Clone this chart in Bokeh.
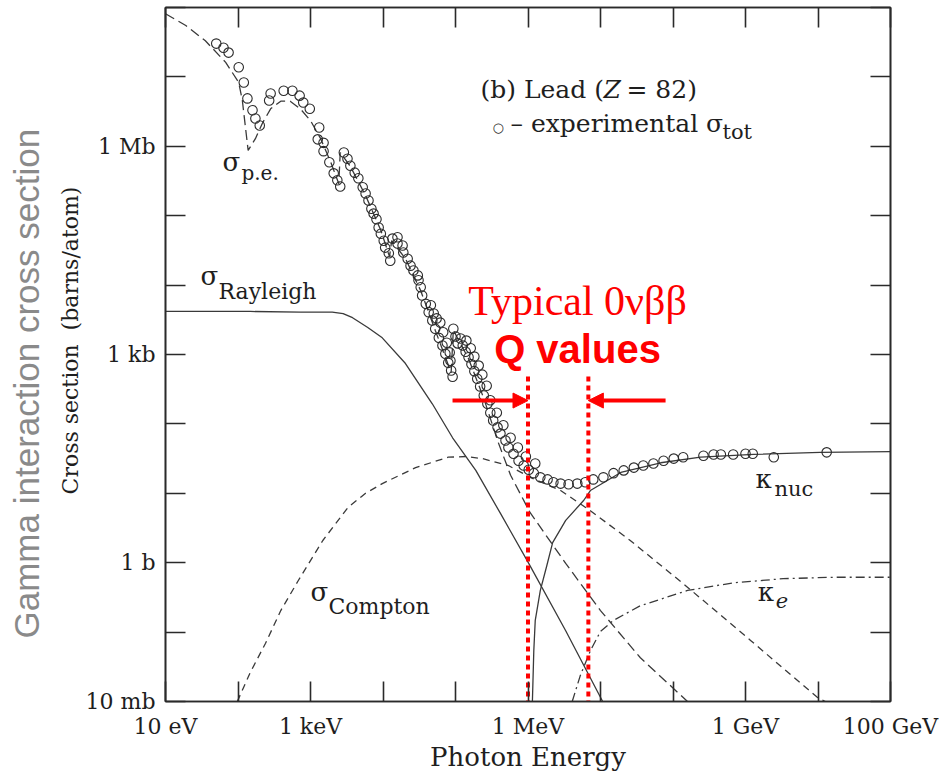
import numpy as np
from bokeh.plotting import figure
from bokeh.models import Range1d, FixedTicker, LogAxis, Label, Arrow, NormalHead
from bokeh.embed import file_html
from bokeh.resources import INLINE

# Photon interaction cross sections of lead (Z = 82).
# All series are stored as log10(E / eV) and log10(sigma / barn).

# experimental total cross section (open circles)
tot_log_e = [1.70, 1.80, 1.87, 2.01, 2.08, 2.13, 2.20, 2.24, 2.30,
             2.43, 2.45, 2.63, 2.75, 2.85, 2.90, 2.99,
             3.12, 3.10, 3.18, 3.18, 3.26, 3.32, 3.37, 3.41,
             3.46, 3.51, 3.55, 3.61, 3.66, 3.72, 3.76, 3.80, 3.84, 3.87, 3.91, 3.94, 3.97, 4.01, 4.03, 4.08, 4.10,
             4.13, 4.20, 4.20, 4.27, 4.28, 4.34, 4.38, 4.42, 4.48, 4.49,
             4.52, 4.54, 4.59, 4.63, 4.68, 4.72, 4.77, 4.82, 4.86, 4.90, 4.94, 4.96,
             4.66, 4.70, 4.74, 4.79, 4.83, 4.88, 4.92, 4.93,
             4.97, 5.00, 5.03, 5.07, 5.10, 5.14, 5.18, 5.22, 5.26, 5.30, 5.34, 5.39, 5.44, 5.48,
             5.52, 5.58, 5.62, 5.69, 5.73, 5.80, 5.87, 5.94,
             6.01, 6.08, 6.17, 6.27, 6.35, 6.45, 6.56, 6.68, 6.79, 6.90,
             7.04, 7.18, 7.32, 7.46, 7.59, 7.73, 7.87,
             8.01, 8.14, 8.42, 8.56, 8.66, 8.83,
             9.00, 9.10, 9.39, 10.12,
             5.15, 5.21, 5.26, 5.32, 5.37, 5.43,
             5.48, 5.57, 5.66, 5.76, 5.86, 5.97, 6.10]
tot_log_sigma = [7.48, 7.42, 7.35, 7.14, 6.92, 6.69, 6.52, 6.40, 6.30,
                 6.66, 6.76, 6.80, 6.80, 6.73, 6.63, 6.54,
                 6.27, 6.10, 6.05, 5.93, 5.77, 5.61, 5.51, 5.42,
                 5.91, 5.82, 5.72, 5.62, 5.54, 5.41, 5.32, 5.22, 5.10, 5.03, 4.95, 4.83, 4.74, 4.64, 4.54, 4.46, 4.35,
                 4.67, 4.69, 4.60, 4.57, 4.47, 4.38, 4.28, 4.21, 4.14, 4.07,
                 3.97, 3.85, 3.73, 3.61, 3.49, 3.37, 3.24, 3.13, 3.01, 2.88, 2.77, 2.68,
                 3.71, 3.59, 3.52, 3.46, 3.32, 3.17, 3.03, 2.91,
                 3.37, 3.26, 3.16, 3.23, 3.13, 3.04, 2.96, 2.86, 2.76, 2.65, 2.54, 2.41, 2.29, 2.16,
                 2.05, 1.95, 1.86, 1.76, 1.66, 1.57, 1.47, 1.40,
                 1.34, 1.29, 1.23, 1.20, 1.16, 1.14, 1.13, 1.14, 1.16, 1.20,
                 1.23, 1.29, 1.33, 1.37, 1.40, 1.43, 1.47,
                 1.50, 1.52, 1.54, 1.56, 1.56, 1.56,
                 1.57, 1.57, 1.52, 1.59,
                 3.20, 3.09, 2.97, 2.84, 2.71, 2.55,
                 2.34, 2.16, 1.98, 1.80, 1.66, 1.53, 1.43]

# photoelectric absorption
pe_log_e = [1.00, 1.28, 1.55, 1.83, 2.01, 2.06, 2.10, 2.14, 2.24, 2.34,
            2.45, 2.59, 2.72, 2.86, 3.00, 3.14, 3.28, 3.39, 3.41, 3.55,
            3.76, 3.97, 4.09, 4.12, 4.31, 4.52, 4.72, 4.94, 4.97, 5.18,
            5.39, 5.58, 5.76, 6.03, 6.52, 7.00, 7.55, 8.20]
pe_log_sigma = [7.91, 7.74, 7.52, 7.21, 6.92, 6.66, 6.30, 5.94, 6.11, 6.34,
                6.54, 6.65, 6.65, 6.54, 6.37, 6.11, 5.77, 5.46, 5.91, 5.71,
                5.29, 4.79, 4.41, 4.64, 4.38, 3.92, 3.35, 2.74, 3.35, 2.94,
                2.37, 1.76, 1.26, 0.72, -0.01, -0.69, -1.37, -2.00]

# coherent (Rayleigh) scattering
ray_log_e = [1.00, 2.17, 2.86, 3.30, 3.45, 3.58, 3.79, 3.99, 4.31, 4.68, 4.96, 5.28, 5.62, 6.01, 6.52, 7.03]
ray_log_sigma = [3.62, 3.62, 3.61, 3.61, 3.59, 3.53, 3.39, 3.24, 2.87, 2.29, 1.80, 1.33, 0.71, -0.01, -0.98, -2.00]

# incoherent (Compton) scattering
comp_log_e = [1.99, 2.17, 2.38, 2.59, 2.83, 3.17, 3.52, 3.76, 3.99, 4.45, 4.90,
              5.14, 5.37, 5.73, 6.03, 6.45, 6.86, 7.41, 8.14, 9.07, 9.99, 10.10]
comp_log_sigma = [-2.00, -1.58, -1.16, -0.69, -0.26, 0.32, 0.80, 1.00, 1.14, 1.37, 1.52,
                  1.53, 1.50, 1.40, 1.23, 1.04, 0.75, 0.32, -0.30, -1.12, -1.94, -2.00]

# pair production, nuclear field
knuc_log_e = [6.05, 6.08, 6.10, 6.17, 6.26, 6.34, 6.52, 6.77, 6.86, 7.28, 7.83, 8.38, 9.11, 10.03, 11.00]
knuc_log_sigma = [-2.40, -1.27, -0.83, -0.40, -0.04, 0.29, 0.61, 0.90, 1.04, 1.30, 1.44, 1.52, 1.56, 1.59, 1.60]

# pair production, electron field
ke_log_e = [6.61, 6.72, 6.86, 7.00, 7.18, 7.55, 8.20, 8.83, 9.52, 10.21, 11.00]
ke_log_sigma = [-2.00, -1.63, -1.27, -0.99, -0.83, -0.62, -0.40, -0.29, -0.23, -0.21, -0.21]

# double-beta decay Q-value window (eV)
q_values_ev = [1.0e6, 6.8e6]

x_ticks = [1e1, 1e2, 1e3, 1e4, 1e5, 1e6, 1e7, 1e8, 1e9, 1e10, 1e11]
x_tick_text = {1e1: "10 eV", 1e3: "1 keV", 1e6: "1 MeV", 1e9: "1 GeV", 1e11: "100 GeV"}
y_ticks = [1e-2, 1e-1, 1e0, 1e1, 1e2, 1e3, 1e4, 1e5, 1e6, 1e7, 1e8]
y_tick_text = {1e-2: "10 mb", 1e0: "1 b", 1e3: "1 kb", 1e6: "1 Mb"}


def lin(a):
    return 10.0 ** np.asarray(a, dtype=float)


INK = "#1e1e1e"
CURVE = "#3a3a3a"
RED = "#ff0000"
SERIF = "DejaVu Serif"
NBSP = "\u00a0"

p = figure(width=940, height=775, x_axis_type="log", y_axis_type="log",
           x_range=Range1d(1e1, 1e11), y_range=Range1d(1e-2, 1e8),
           output_backend="svg", toolbar_location=None,
           min_border_left=165, min_border_right=50, min_border_top=7, min_border_bottom=74)
p.grid.visible = False
p.background_fill_color = "white"
p.border_fill_color = "white"
p.outline_line_color = "#2a2a2a"
p.outline_line_width = 1.6


def style_axis(ax, ticks, text, show_labels):
    ax.ticker = FixedTicker(ticks=ticks, minor_ticks=[])
    ax.major_label_overrides = {t: text.get(t, "") for t in ticks}
    ax.major_tick_in = 20
    ax.major_tick_out = 0
    ax.major_tick_line_color = "#2a2a2a"
    ax.major_tick_line_width = 1.6
    ax.minor_tick_line_color = None
    ax.axis_line_color = "#2a2a2a"
    ax.axis_line_width = 1.6
    if show_labels:
        ax.major_label_text_font = SERIF
        ax.major_label_text_font_size = "22px"
        ax.major_label_text_color = INK
    else:
        ax.major_label_text_font_size = "0px"
        ax.major_label_standoff = 0


# bottom axis with its title
xa = p.xaxis[0]
style_axis(xa, x_ticks, x_tick_text, True)
xa.major_label_standoff = 12
xa.axis_label = "Photon Energy"
xa.axis_label_text_font = SERIF
xa.axis_label_text_font_size = "26px"
xa.axis_label_text_font_style = "normal"
xa.axis_label_text_color = INK
xa.axis_label_standoff = 0

# left axis with its title
ya = p.yaxis[0]
style_axis(ya, y_ticks, y_tick_text, True)
ya.major_label_standoff = 10
ya.axis_label = NBSP * 4 + "Cross section" + NBSP + " (barns/atom)"
ya.axis_label_text_font = SERIF
ya.axis_label_text_font_size = "22px"
ya.axis_label_text_font_style = "normal"
ya.axis_label_text_color = INK
ya.axis_label_standoff = 0

# outer title on the left
outer = LogAxis(ticker=FixedTicker(ticks=[], minor_ticks=[]))
outer.axis_line_color = None
outer.major_tick_line_color = None
outer.minor_tick_line_color = None
outer.major_label_text_font_size = "0px"
outer.major_label_standoff = 0
outer.major_tick_in = 0
outer.major_tick_out = 0
outer.axis_label = "Gamma interaction cross section" + NBSP * 6
outer.axis_label_text_font = "Liberation Sans"
outer.axis_label_text_font_size = "35px"
outer.axis_label_text_font_style = "normal"
outer.axis_label_text_color = "#8a8a8a"
outer.axis_label_standoff = 9
p.add_layout(outer, "left")

# mirrored tick marks on top and right
top_axis = LogAxis()
style_axis(top_axis, x_ticks, {}, False)
p.add_layout(top_axis, "above")
right_axis = LogAxis()
style_axis(right_axis, y_ticks, {}, False)
p.add_layout(right_axis, "right")

# theory curves
p.line(lin(pe_log_e), lin(pe_log_sigma), line_color=CURVE, line_width=1.3, line_dash="10 5")
p.line(lin(ray_log_e), lin(ray_log_sigma), line_color=CURVE, line_width=1.3)
p.line(lin(comp_log_e), lin(comp_log_sigma), line_color=CURVE, line_width=1.3, line_dash="7 5")
p.line(lin(knuc_log_e), lin(knuc_log_sigma), line_color=CURVE, line_width=1.3)
p.line(lin(ke_log_e), lin(ke_log_sigma), line_color=CURVE, line_width=1.3, line_dash="9 4 2 4")

# measured total cross section
p.scatter(lin(tot_log_e), lin(tot_log_sigma), marker="circle", size=9.5,
          fill_color=None, line_color="#2b2b2b", line_width=1.1)

# Q-value window
for q in q_values_ev:
    p.line([q, q], [482, 1e-2], line_color=RED, line_width=4, line_dash="5 4")

p.add_layout(Arrow(end=NormalHead(size=15, fill_color=RED, line_color=RED, line_width=1),
                   x_start=9.1e4, y_start=217, x_end=q_values_ev[0], y_end=217,
                   line_color=RED, line_width=4))
p.add_layout(Arrow(end=NormalHead(size=15, fill_color=RED, line_color=RED, line_width=1),
                   x_start=7.9e7, y_start=217, x_end=q_values_ev[1], y_end=217,
                   line_color=RED, line_width=4))


def put(text, x, y, size, font=SERIF, color=INK, style="normal", dx=0, dy=0, align="left"):
    # lift the anchor so that (x, y) marks the text baseline
    p.add_layout(Label(x=x, y=y, text=text, x_offset=dx, y_offset=dy + round(0.33 * size),
                       text_font=font, text_font_size=f"{size}px", text_color=color,
                       text_font_style=style, text_align=align, text_baseline="alphabetic"))


# curve names
put("σ", 61, 4.48e5, 26)
put("p.e.", 61, 4.48e5, 20, dx=19, dy=-9)
put("σ", 30.4, 9.87e3, 26)
put("Rayleigh", 30.4, 9.87e3, 22, dx=18, dy=-13)
put("σ", 1000, 0.285, 26)
put("Compton", 1000, 0.285, 22, dx=18, dy=-13)
put("κ", 1.37e9, 12.1, 26)
put("nuc", 1.37e9, 12.1, 21, dx=19, dy=-8)
put("κ", 1.47e9, 0.285, 26)
put("e", 1.47e9, 0.285, 21, style="italic", dx=18, dy=-7)

# panel title and marker key
put("(b) Lead (", 2.21e5, 5.05e6, 25)
put("Z", 2.21e5, 5.05e6, 25, style="italic", dx=123)
put("= 82)", 2.21e5, 5.05e6, 25, dx=146)
put("○", 5.74e5, 1.63e6, 13, font="DejaVu Sans", dx=-18)
put("– experimental σ", 5.74e5, 1.63e6, 25)
put("tot", 5.74e5, 1.63e6, 21, dx=212, dy=-7)

# Q-value annotation
put("Typical 0νββ", 4.82e6, 3.65e3, 42, font="Liberation Serif", color=RED, align="center")
put("Q values", 4.82e6, 767, 40, font="Liberation Sans", color=RED, style="bold", align="center")

open("out.html", "w").write(file_html(p, INLINE))
